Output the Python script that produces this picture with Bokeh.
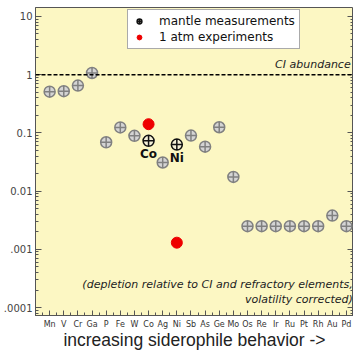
import math
from bokeh.plotting import figure
from bokeh.models import (ColumnDataSource, FixedTicker, LogAxis, Span, Label,
                          Legend, LegendItem, CustomJSTickFormatter, Range1d)
from bokeh.core.properties import value
from bokeh.embed import file_html
from bokeh.resources import INLINE

# ---- data ----
elements = ["Mn", "V", "Cr", "Ga", "P", "Fe", "W", "Co", "Ag", "Ni", "Sb", "As",
            "Ge", "Mo", "Os", "Re", "Ir", "Ru", "Pt", "Rh", "Au", "Pd"]
mantle = [0.51, 0.52, 0.65, 1.07, 0.069, 0.124, 0.089, 0.073, 0.031, 0.063, 0.09,
          0.058, 0.125, 0.0175, 0.0025, 0.0025, 0.0025, 0.0025, 0.0025, 0.0025,
          0.0038, 0.0025]
highlighted = ["Co", "Ni"]
exp_elements = ["Co", "Ni"]
exp_values = [0.141, 0.0013]
ci_abundance = 1.0
y_tick_labels = ["10", "1", "0.1", "0.01", ".001", ".0001"]

xs = list(range(len(elements)))
idx = {e: i for i, e in enumerate(elements)}
gray_src = ColumnDataSource(dict(
    x=[i for i, e in enumerate(elements) if e not in highlighted],
    y=[v for e, v in zip(elements, mantle) if e not in highlighted]))
hi_src = ColumnDataSource(dict(
    x=[idx[e] for e in highlighted],
    y=[mantle[idx[e]] for e in highlighted],
    name=highlighted))
exp_src = ColumnDataSource(dict(x=[idx[e] for e in exp_elements], y=exp_values))

p = figure(width=353, height=352, y_axis_type="log",
           x_range=Range1d(-1, 21.5), y_range=Range1d(10 ** -4.137, 10 ** 1.154),
           output_backend="svg", toolbar_location=None,
           min_border_left=28, min_border_right=0, min_border_top=7,
           min_border_bottom=36)
p.background_fill_color = "#fcf7c3"
p.border_fill_color = "white"
p.outline_line_color = "#555555"
p.outline_line_width = 1
p.grid.visible = False

# y axis
major = [10.0 ** k for k in range(-4, 2)]
minor = [m * 10.0 ** k for k in range(-5, 2) for m in range(2, 10)]
fmt = CustomJSTickFormatter(args=dict(labels=y_tick_labels), code="""
const k = Math.round(Math.log10(tick));
return labels[1 - k];
""")
yax = p.yaxis[0]
yax.ticker = FixedTicker(ticks=major, minor_ticks=minor)
yax.formatter = fmt
yax.major_tick_in = 6
yax.major_tick_out = 0
yax.minor_tick_in = 3
yax.minor_tick_out = 0
yax.axis_line_color = "#555555"
yax.major_tick_line_color = "#555555"
yax.minor_tick_line_color = "#555555"
yax.major_label_text_font = "DejaVu Sans"
yax.major_label_text_font_size = "10px"
yax.major_label_text_color = "#444444"
yax.major_label_standoff = 3

rax = LogAxis(ticker=FixedTicker(ticks=major, minor_ticks=minor))
rax.major_label_text_font_size = "1px"
rax.major_label_text_alpha = 0
rax.major_label_standoff = 0
rax.major_tick_in = 6
rax.major_tick_out = 0
rax.minor_tick_in = 3
rax.minor_tick_out = 0
rax.axis_line_color = "#555555"
rax.major_tick_line_color = "#555555"
rax.minor_tick_line_color = "#555555"
p.add_layout(rax, "right")

# x axis
xax = p.xaxis[0]
xax.ticker = FixedTicker(ticks=xs, minor_ticks=[i + 0.5 for i in range(-1, len(xs))])
xax.major_label_overrides = {i: e for i, e in enumerate(elements)}
xax.major_tick_in = 5
xax.major_tick_out = 0
xax.minor_tick_in = 3
xax.minor_tick_out = 0
xax.axis_line_color = "#555555"
xax.major_tick_line_color = "#555555"
xax.minor_tick_line_color = "#555555"
xax.major_label_text_font = "DejaVu Sans"
xax.major_label_text_font_size = "8px"
xax.major_label_text_color = "#333333"
xax.major_label_standoff = 4
xax.axis_label = "increasing siderophile behavior ->"
xax.axis_label_text_font = "Liberation Sans"
xax.axis_label_text_font_style = "normal"
xax.axis_label_text_font_size = "17.5px"
xax.axis_label_text_color = "#222222"
xax.axis_label_standoff = -2

# CI abundance line
p.add_layout(Span(location=ci_abundance, dimension="width", line_color="black",
                  line_dash="4 2", line_width=1.5))
p.add_layout(Label(x=21.3, y=ci_abundance, y_offset=4, text="CI abundance",
                   text_align="right", text_baseline="bottom",
                   text_font="DejaVu Sans", text_font_style="italic",
                   text_font_size="11px", text_color="#222222"))

# markers
p.scatter("x", "y", source=gray_src, marker="circle_cross", size=11,
          fill_color="#d4d4d4", line_color="#808080", line_width=1.5)
r_hi = p.scatter("x", "y", source=hi_src, marker="circle_cross", size=11,
                 fill_color="#f4f0d8", line_color="#111111", line_width=1.5)
r_exp = p.scatter("x", "y", source=exp_src, marker="circle", size=11,
                  fill_color="#ee0000", line_color="#ee0000")
p.text("x", "y", text="name", source=hi_src, y_offset=13, text_align="center",
       text_baseline="middle", text_font=value("DejaVu Sans"),
       text_font_style="bold", text_font_size="12px", text_color="#111111")

# notes
p.add_layout(Label(x=21.45, y=2.5e-4, text="(depletion relative to CI and refractory elements,",
                   text_align="right", text_baseline="middle",
                   text_font="DejaVu Sans", text_font_style="italic",
                   text_font_size="11px", text_color="#222222"))
p.add_layout(Label(x=21.45, y=1.35e-4, text="volatility corrected)",
                   text_align="right", text_baseline="middle",
                   text_font="DejaVu Sans", text_font_style="italic",
                   text_font_size="11px", text_color="#222222"))

legend = Legend(items=[LegendItem(label="mantle measurements", renderers=[r_hi]),
                       LegendItem(label="1 atm experiments", renderers=[r_exp])],
                location=(92, 266))
legend.label_text_font = "DejaVu Sans"
legend.label_text_font_size = "12px"
legend.label_text_color = "#111111"
legend.glyph_width = 14
legend.glyph_height = 12
legend.label_height = 12
legend.spacing = 2
legend.padding = 4
legend.margin = 0
legend.label_standoff = 13
legend.border_line_color = "#555555"
legend.background_fill_color = "white"
legend.background_fill_alpha = 1
p.add_layout(legend)

open("out.html", "w").write(file_html(p, INLINE))
